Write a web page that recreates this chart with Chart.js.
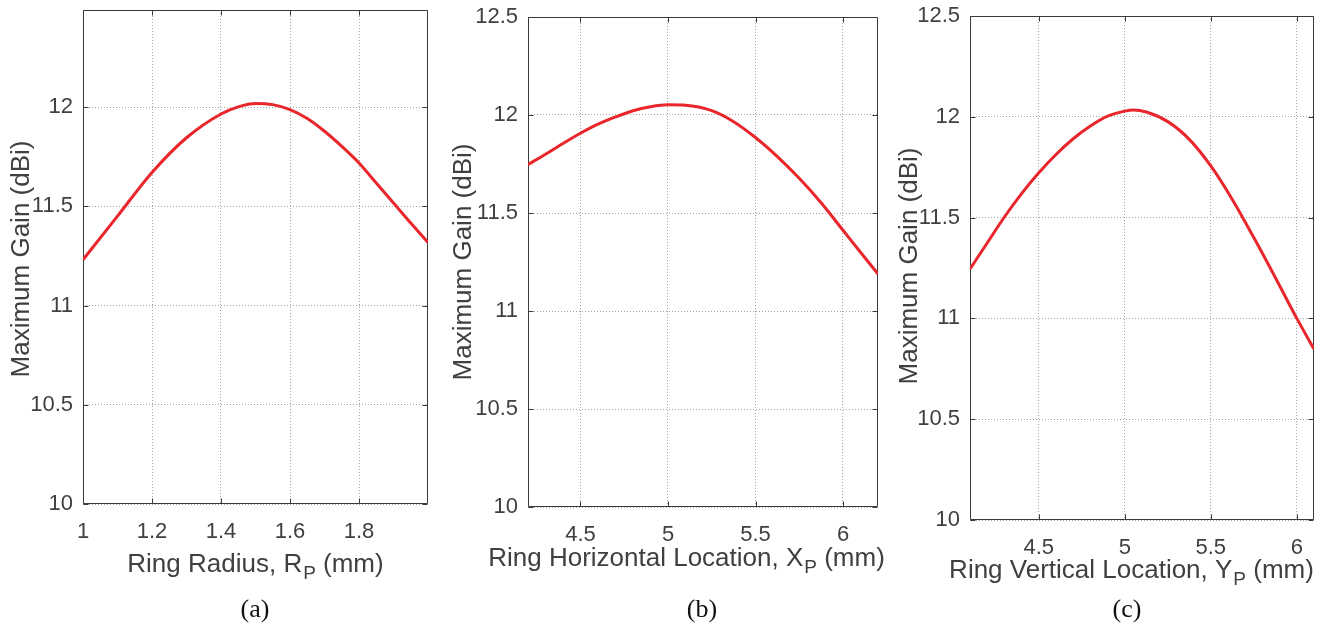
<!DOCTYPE html>
<html><head><meta charset="utf-8">
<script src="https://cdn.jsdelivr.net/npm/chart.js@4.4.0/dist/chart.umd.min.js"></script>
<style>
html,body{margin:0;padding:0;background:#fff;}
#wrap{position:relative;width:1327px;height:626px;overflow:hidden;background:#fff;}
canvas{position:absolute;top:0;}
.cap{position:absolute;top:609px;font-family:"Liberation Serif","Times New Roman",serif;font-size:26px;color:#111;transform:translate(-50%,-50%);white-space:nowrap;}
</style></head><body>
<div id="wrap">
<canvas id="ca" width="440" height="626" style="left:0px;width:440px;height:626px"></canvas>
<canvas id="cb" width="450" height="626" style="left:440px;width:450px;height:626px"></canvas>
<canvas id="cc" width="437" height="626" style="left:890px;width:437px;height:626px"></canvas>
<div class="cap" style="left:255px">(a)</div>
<div class="cap" style="left:702px">(b)</div>
<div class="cap" style="left:1127px">(c)</div>
</div>
<script>
// ---- data ----
const radiusX    = [1.0, 1.1, 1.2, 1.3, 1.4, 1.45, 1.5, 1.55, 1.6, 1.65, 1.7, 1.75, 1.8, 1.85, 1.9, 1.95, 2.0];
const radiusGain = [11.231, 11.451, 11.671, 11.846, 11.966, 12.002, 12.019, 12.013, 11.988, 11.943, 11.879, 11.803, 11.719, 11.618, 11.517, 11.416, 11.318];

const horizX    = [4.2, 4.3, 4.4, 4.5, 4.6, 4.7, 4.8, 4.9, 5.0, 5.1, 5.25, 5.375, 5.5, 5.625, 5.75, 5.875, 6.0, 6.1, 6.2];
const horizGain = [11.747, 11.800, 11.855, 11.907, 11.953, 11.990, 12.022, 12.042, 12.052, 12.050, 12.022, 11.966, 11.885, 11.788, 11.677, 11.552, 11.412, 11.300, 11.189];

const vertX    = [4.1, 4.2, 4.3, 4.4, 4.5, 4.6, 4.7, 4.8, 4.9, 5.0, 5.05, 5.125, 5.25, 5.375, 5.5, 5.625, 5.75, 5.875, 6.0, 6.1];
const vertGain = [11.245, 11.374, 11.503, 11.619, 11.722, 11.813, 11.891, 11.954, 12.003, 12.028, 12.034, 12.024, 11.976, 11.888, 11.756, 11.590, 11.401, 11.203, 11.000, 10.848];

const radiusTicks = [1, 1.2, 1.4, 1.6, 1.8];
const locTicks    = [4.5, 5, 5.5, 6];
const gainTicksA  = [10, 10.5, 11, 11.5, 12];
const gainTicksBC = [10, 10.5, 11, 11.5, 12, 12.5];

const xTitleA = ["Ring Radius, R", "P", " (mm)"];
const xTitleB = ["Ring Horizontal Location, X", "P", " (mm)"];
const xTitleC = ["Ring Vertical Location, Y", "P", " (mm)"];
const yTitle  = "Maximum Gain (dBi)";

// ---- styling / layout ----
const FONT = '"Liberation Sans", Arial, Helvetica, sans-serif';
const TXT = '#404040';
const Y_W = 60, X_H = 50;

function makeChart(id, o) {
  const padding = {
    left: o.L - o.off - Y_W,
    right: o.off + o.cw - o.R,
    top: o.T,
    bottom: 626 - o.B - X_H
  };
  const boxPlugin = {
    id: 'box_' + id,
    beforeDatasetsDraw(chart) {
      const ctx = chart.ctx, a = chart.chartArea;
      const xs = chart.scales.x, ys = chart.scales.y;
      ctx.save();
      ctx.strokeStyle = '#3a3a3a';
      ctx.lineWidth = 1;
      const l = Math.round(a.left) + 0.5, r = Math.round(a.right) - 0.5;
      const t = Math.round(a.top) + 0.5, b = Math.round(a.bottom) - 0.5;
      ctx.beginPath();
      ctx.rect(l, t, r - l, b - t);
      const tl = 5;
      o.xt.forEach(v => {
        const p = Math.round(xs.getPixelForValue(v)) + 0.5;
        ctx.moveTo(p, b); ctx.lineTo(p, b - tl);
        ctx.moveTo(p, t); ctx.lineTo(p, t + tl);
      });
      o.yt.forEach(v => {
        const p = Math.round(ys.getPixelForValue(v)) + 0.5;
        ctx.moveTo(l, p); ctx.lineTo(l + tl, p);
        ctx.moveTo(r, p); ctx.lineTo(r - tl, p);
      });
      ctx.stroke();
      ctx.restore();
    },
    afterDraw(chart) {
      const ctx = chart.ctx;
      ctx.save();
      ctx.fillStyle = TXT;
      // y title
      ctx.font = '26px ' + FONT;
      ctx.textAlign = 'center';
      ctx.textBaseline = 'middle';
      ctx.translate(o.ytx - o.off, o.yty);
      ctx.rotate(-Math.PI / 2);
      ctx.fillText(yTitle, 0, 0);
      ctx.setTransform(1, 0, 0, 1, 0, 0);
      // x title with subscript
      ctx.textAlign = 'left';
      ctx.textBaseline = 'alphabetic';
      const big = '26px ' + FONT, small = '19px ' + FONT;
      ctx.font = big; const w0 = ctx.measureText(o.xTitle[0]).width;
      ctx.font = small; const w1 = ctx.measureText(o.xTitle[1]).width;
      ctx.font = big; const w2 = ctx.measureText(o.xTitle[2]).width;
      let x = o.xtx - o.off - (w0 + w1 + w2) / 2;
      ctx.font = big; ctx.fillText(o.xTitle[0], x, o.xty); x += w0;
      ctx.font = small; ctx.fillText(o.xTitle[1], x + 1, o.xty + 7); x += w1 + 1;
      ctx.font = big; ctx.fillText(o.xTitle[2], x, o.xty);
      ctx.restore();
    }
  };
  return new Chart(document.getElementById(id), {
    type: 'line',
    data: {
      datasets: [{
        data: o.xs.map((v, i) => ({x: v, y: o.ys[i]})),
        borderColor: '#e8262b',
        borderWidth: 3,
        pointRadius: 0,
        fill: false,
        cubicInterpolationMode: 'monotone'
      }]
    },
    options: {
      responsive: false,
      animation: false,
      devicePixelRatio: 1,
      layout: {padding},
      plugins: {legend: {display: false}, tooltip: {enabled: false}},
      scales: {
        x: {
          type: 'linear', min: o.xmin, max: o.xmax,
          afterBuildTicks: s => { s.ticks = o.xt.map(v => ({value: v})); },
          afterFit: s => { s.height = X_H; s.paddingLeft = 0; s.paddingRight = 0; },
          ticks: {color: TXT, font: {family: FONT, size: 22}, padding: 15,
                  autoSkip: false, maxRotation: 0, callback: v => String(v)},
          grid: {color: '#a6a6a6', lineWidth: 1, drawTicks: false},
          border: {display: false, dash: [1, 2]}
        },
        y: {
          type: 'linear', min: o.ymin, max: o.ymax,
          afterBuildTicks: s => { s.ticks = o.yt.map(v => ({value: v})); },
          afterFit: s => { s.width = Y_W; s.paddingTop = 0; s.paddingBottom = 0; },
          ticks: {color: TXT, font: {family: FONT, size: 22}, padding: 10,
                  autoSkip: false, callback: v => String(v)},
          grid: {color: '#a6a6a6', lineWidth: 1, drawTicks: false},
          border: {display: false, dash: [1, 2]}
        }
      }
    },
    plugins: [boxPlugin]
  });
}

makeChart('ca', {off: 0, cw: 440, L: 83, R: 428, T: 10, B: 504,
  xmin: 1, xmax: 2, ymin: 10, ymax: 12.49, xt: radiusTicks, yt: gainTicksA,
  xs: radiusX, ys: radiusGain, xTitle: xTitleA,
  ytx: 22, yty: 259, xtx: 255, xty: 572});
makeChart('cb', {off: 440, cw: 450, L: 528, R: 878, T: 17, B: 507,
  xmin: 4.2, xmax: 6.2, ymin: 10, ymax: 12.5, xt: locTicks, yt: gainTicksBC,
  xs: horizX, ys: horizGain, xTitle: xTitleB,
  ytx: 464, yty: 262, xtx: 686, xty: 566});
makeChart('cc', {off: 890, cw: 437, L: 970, R: 1314, T: 16, B: 520,
  xmin: 4.1, xmax: 6.1, ymin: 10, ymax: 12.5, xt: locTicks, yt: gainTicksBC,
  xs: vertX, ys: vertGain, xTitle: xTitleC,
  ytx: 910, yty: 266, xtx: 1131, xty: 578});
</script>
</body></html>
